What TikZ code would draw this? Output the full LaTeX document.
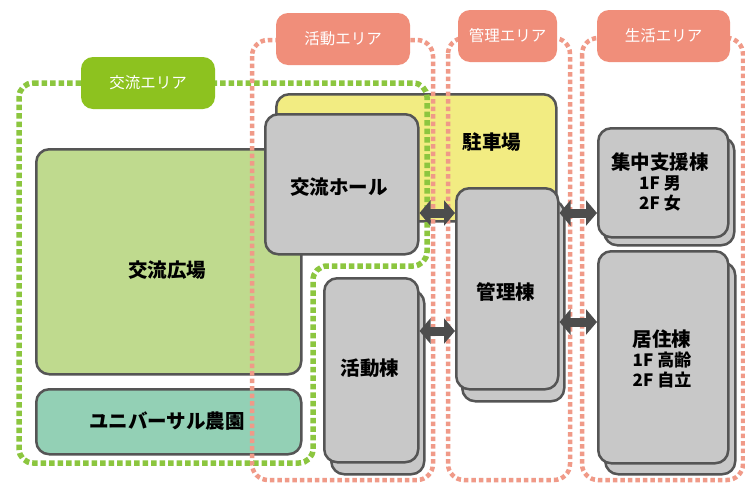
\documentclass[tikz,border=0pt]{standalone}
\usepackage{fontspec}
\setmainfont{Noto Sans CJK JP}
\usetikzlibrary{arrows.meta}
\definecolor{gdash}{HTML}{8CC63F}
\definecolor{glabel}{HTML}{8DC21F}
\definecolor{pdash}{HTML}{F09A88}
\definecolor{plabel}{HTML}{F08E7A}
\definecolor{plazac}{HTML}{BFDA8E}
\definecolor{farmc}{HTML}{93D0B5}
\definecolor{parkc}{HTML}{F2EC82}
\definecolor{bldg}{HTML}{C8C8C8}
\definecolor{edgec}{HTML}{555555}
\definecolor{arr}{HTML}{4D4D4D}
\tikzset{
  box/.style={draw=edgec, line width=2.5pt, rounded corners=13pt, anchor=north west, inner sep=0pt},
  ttl/.style={font=\bfseries\fontsize{19.5}{21}\selectfont, align=center, inner sep=0pt},
  areatag/.style={fill=plabel, rounded corners=12pt, text=white, font=\fontsize{15.5}{18}\selectfont, minimum height=52pt, inner sep=0pt},
  gline/.style={draw=gdash, line width=5.5pt, dash pattern=on 5.5pt off 3pt, rounded corners=14pt},
  pline/.style={draw=pdash, line width=4.5pt, dash pattern=on 4.5pt off 3pt, rounded corners=16pt},
  link/.style={draw=arr, line width=9pt, {Triangle[width=25pt,length=11pt]}-{Triangle[width=25pt,length=11pt]}}
}
\newcommand{\subl}[1]{{\fontsize{17}{20}\selectfont #1}}
\begin{document}
\begin{tikzpicture}[x=1pt,y=-1pt]
\useasboundingbox (0,0) rectangle (745,485);
\fill[white] (0,0) rectangle (745,485);
% boxes
\node[box, fill=parkc, minimum width=280pt, minimum height=127pt] (park) at (275,93) {};
\node[box, fill=plazac, minimum width=265pt, minimum height=225pt] (plaza) at (35,148) {};
\node[box, fill=farmc, minimum width=265pt, minimum height=65pt] (farm) at (35,388) {};
\node[box, fill=bldg, minimum width=153pt, minimum height=140pt] (hall) at (264,113) {};
\node[box, fill=bldg, minimum width=93pt, minimum height=184pt] (katsB) at (330,289) {};
\node[box, fill=bldg, minimum width=94pt, minimum height=184pt] (kats) at (323,277) {};
\node[box, fill=bldg, minimum width=102pt, minimum height=201pt] (kanriB) at (461,199) {};
\node[box, fill=bldg, minimum width=102pt, minimum height=201pt] (kanri) at (455,187) {};
\node[box, fill=bldg, minimum width=130pt, minimum height=108pt] (shuB) at (603,136) {};
\node[box, fill=bldg, minimum width=130pt, minimum height=109pt] (shu) at (597,127) {};
\node[box, fill=bldg, minimum width=130pt, minimum height=212pt] (kyoB) at (604,261) {};
\node[box, fill=bldg, minimum width=130pt, minimum height=212pt] (kyo) at (597,250) {};
% texts
\node[ttl] (tpark) at (492,142) {駐車場};
\node[ttl] (tplaza) at (167,270) {交流広場};
\node[ttl] (tfarm) at (167,421) {ユニバーサル農園};
\node[ttl] (thall) at (339,187) {交流ホール};
\node[ttl] (tkats) at (370,368) {活動棟};
\node[ttl] (tkanri) at (506,292) {管理棟};
\node[ttl] (tshu) at (660,182) {集中支援棟\\[-1pt]\subl{1F 男}\\[-1pt]\subl{2F 女}};
\node[ttl] (tkyo) at (662,359) {居住棟\\[-1pt]\subl{1F 高齢}\\[-1pt]\subl{2F 自立}};
% areas
\draw[gline] (19,83) -- (427,83) -- (427,266) -- (313,266) -- (313,463) -- (19,463) -- cycle;
\draw[pline] (252,40) rectangle (433,480);
\draw[pline] (448,38) rectangle (570,480);
\draw[pline] (582,38) rectangle (743,480);
\node[areatag, fill=glabel, minimum width=134pt] (lkoryu) at (148,83) {交流エリア};
\node[areatag, minimum width=134pt] (lkats) at (343,39) {活動エリア};
\node[areatag, minimum width=99pt] (lkanri) at (507.5,36) {管理エリア};
\node[areatag, minimum width=133pt] (lseikatsu) at (663.5,36) {生活エリア};
% connectors
\coordinate (a1) at (0,213);
\coordinate (a2) at (0,331);
\coordinate (a3) at (0,322);
\draw[link] (hall.east |- a1) -- (kanri.west |- a1);
\draw[link] (kanri.east |- a1) -- (shu.west |- a1);
\draw[link] (kats.east |- a2) -- (kanri.west |- a2);
\draw[link] (kanri.east |- a3) -- (kyo.west |- a3);
\end{tikzpicture}
\end{document}
